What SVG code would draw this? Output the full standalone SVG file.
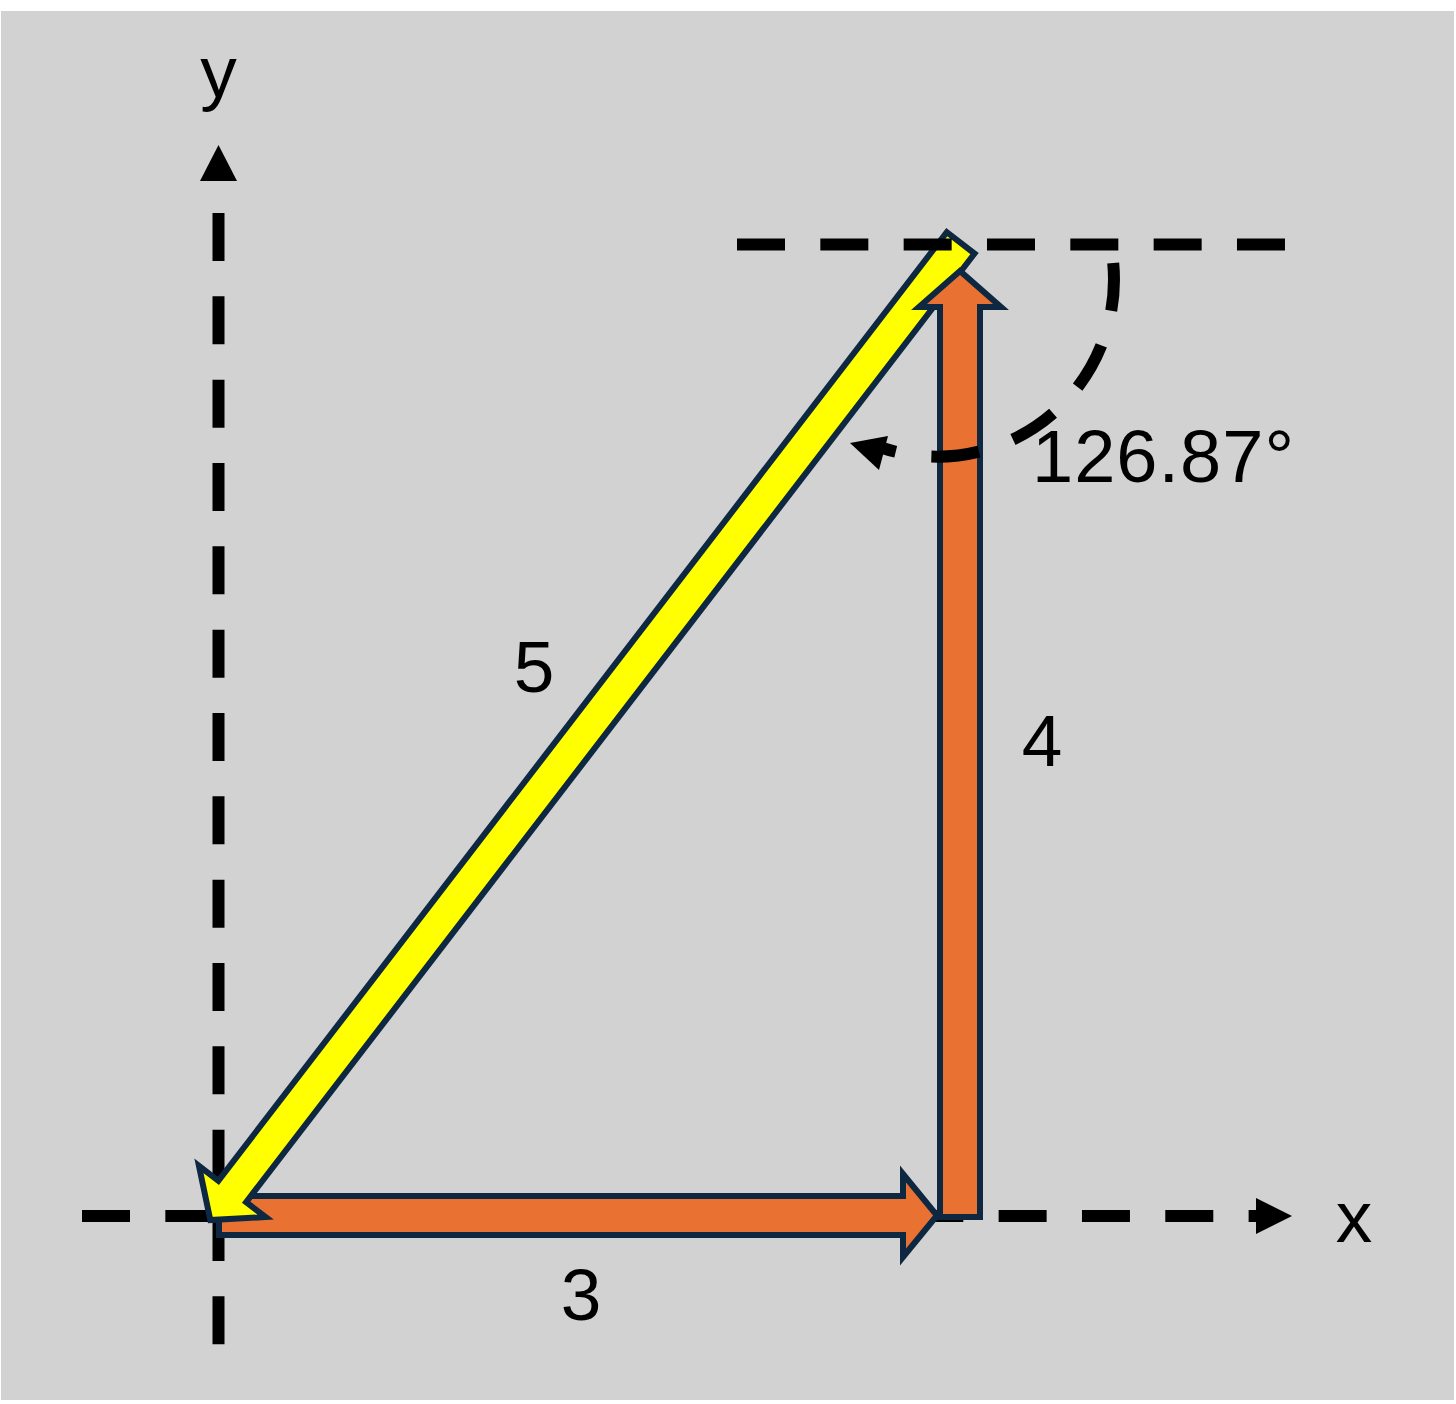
<svg xmlns="http://www.w3.org/2000/svg" width="1456" height="1404" viewBox="0 0 1456 1404">
  <style>
    .dash { fill: none; stroke: #000000; stroke-width: 12; stroke-dasharray: 48 35.33; stroke-linecap: butt; }
    .arc { fill: none; stroke: #000000; stroke-width: 12; stroke-dasharray: 48 36; stroke-linecap: butt; }
    .head { fill: #000000; stroke: none; }
    .orange { fill: #E97132; stroke: #0E2841; stroke-width: 6; stroke-linejoin: miter; stroke-miterlimit: 10; }
    .yellow { fill: #FFFF00; stroke: #0E2841; stroke-width: 6; stroke-linejoin: miter; stroke-miterlimit: 10; }
    .lbl { font-family: "Liberation Sans", Arial, sans-serif; font-size: 73px; fill: #000000; }
  </style>
  <rect x="0" y="0" width="1456" height="1404" fill="#FFFFFF"/>
  <rect x="1" y="11" width="1453" height="1389" fill="#D2D2D2"/>

  <g id="connectors">
    <g id="x-axis">
      <line class="dash" x1="82" y1="1216" x2="1262" y2="1216"/>
      <polygon class="head" points="1256,1198 1292,1216 1256,1234"/>
    </g>
    <g id="y-axis">
      <line class="dash" x1="218.5" y1="213" x2="218.5" y2="1345"/>
      <polygon class="head" points="200,181 218.5,145 237,181"/>
    </g>
  </g>

  <g id="vector-3">
    <polygon class="orange" points="219,1196 903,1196 903,1174 937,1215.5 903,1257 903,1235 219,1235"/>
  </g>
  <g id="vector-5">
    <polygon class="yellow" transform="translate(962.5,240.5) rotate(127.52)" points="3,-17.5 1199,-17.5 1199,-42 1235,0 1199,42 1199,17.5 3,17.5"/>
  </g>
  <g id="vector-4">
    <polygon class="orange" points="940,1217 940,307 919,307 960,271 1001,307 980,307 980,1217"/>
  </g>

  <g id="reference-line">
    <line class="dash" x1="737" y1="244.5" x2="1285" y2="244.5"/>
  </g>
  <g id="angle-arc">
    <path class="arc" d="M 1113.2 263 A 177 177 0 0 1 883.3 448.3"/>
    <polygon class="head" points="850,443 888,436 879,470"/>
  </g>

  <g id="labels">
    <text class="lbl" x="218.5" y="97" text-anchor="middle">y</text>
    <text class="lbl" x="1354" y="1242" text-anchor="middle">x</text>
    <text class="lbl" x="534" y="692" text-anchor="middle">5</text>
    <text class="lbl" x="1042" y="766" text-anchor="middle">4</text>
    <text class="lbl" x="581" y="1320" text-anchor="middle">3</text>
    <text class="lbl" x="1032" y="482" style="font-size:74px" textLength="262" lengthAdjust="spacing">126.87°</text>
  </g>
</svg>
